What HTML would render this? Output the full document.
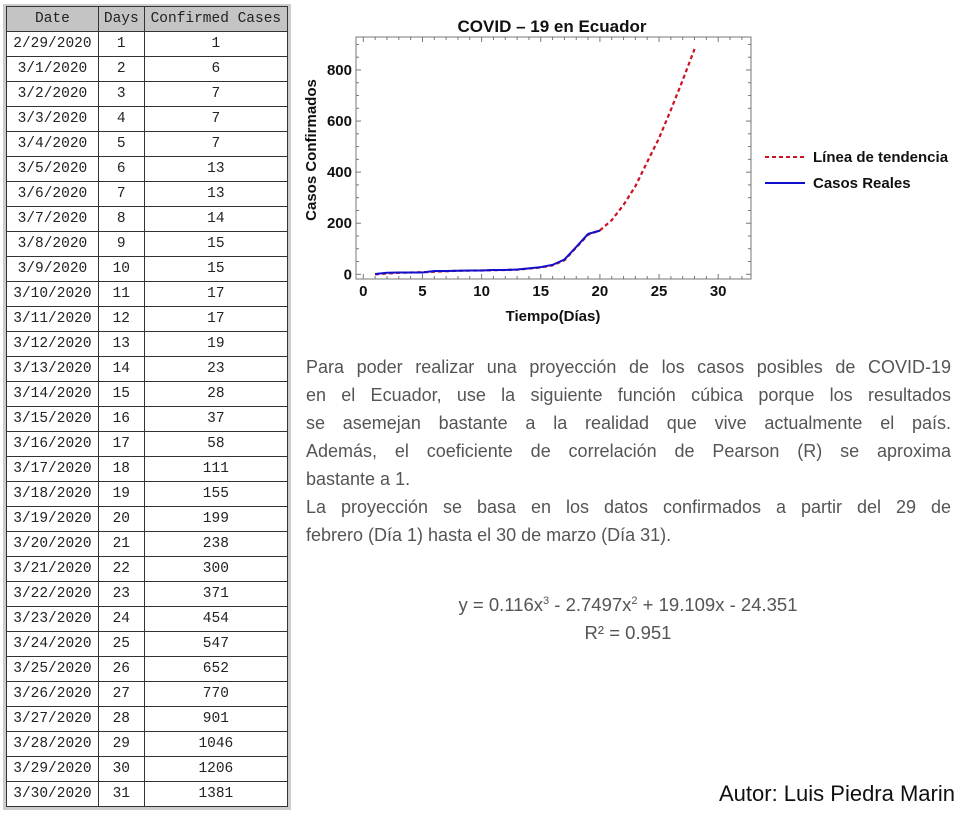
<!DOCTYPE html>
<html><head><meta charset="utf-8"><style>
body{margin:0;width:971px;height:819px;background:#fff;position:relative;overflow:hidden;font-family:"Liberation Sans",sans-serif}
#tbl{position:absolute;left:3px;top:4px;width:288px;background:#ccc;padding:2px 3px 3px 3px;box-sizing:border-box}
table{border-collapse:collapse;font-family:"Liberation Mono",monospace;font-size:14.5px;color:#222}
td,th{border:1px solid #333;height:24px;padding:0;text-align:center;font-weight:normal;background:#fff}
th{background:#c4c4c4}
.para{position:absolute;left:306px;width:645px;font-size:18px;color:#555;line-height:28px;top:353px}
.j{text-align:justify;text-align-last:justify}
.eq{position:absolute;left:448px;width:360px;text-align:center;font-size:18.5px;color:#555}
</style></head><body>
<div id="tbl">
<table>
<thead><tr><th style="width:91px">Date</th><th style="width:45px">Days</th><th style="width:143px">Confirmed Cases</th></tr></thead>
<tbody id="tb"></tbody></table></div>

<svg id="chart" width="971" height="330" style="position:absolute;left:0;top:0"></svg>

<div class="para">
<div class="j">Para poder realizar una proyección de los casos posibles de COVID-19</div>
<div class="j">en el Ecuador, use la siguiente función cúbica porque los resultados</div>
<div class="j">se asemejan bastante a la realidad que vive actualmente el país.</div>
<div class="j">Además, el coeficiente de correlación de Pearson (R) se aproxima</div>
<div>bastante a 1.</div>
<div class="j">La proyección se basa en los datos confirmados a partir del 29 de</div>
<div>febrero (Día 1) hasta el 30 de marzo (Día 31).</div>
</div>
<div class="eq" style="top:594px">y = 0.116x<sup style="font-size:11px">3</sup> - 2.7497x<sup style="font-size:11px">2</sup> + 19.109x - 24.351</div>
<div class="eq" style="top:622px">R² = 0.951</div>
<div style="position:absolute;right:16px;top:781px;font-size:22px;color:#111">Autor: Luis Piedra Marin</div>

<script>
const dates=["2/29/2020","3/1/2020","3/2/2020","3/3/2020","3/4/2020","3/5/2020","3/6/2020","3/7/2020","3/8/2020","3/9/2020","3/10/2020","3/11/2020","3/12/2020","3/13/2020","3/14/2020","3/15/2020","3/16/2020","3/17/2020","3/18/2020","3/19/2020","3/20/2020","3/21/2020","3/22/2020","3/23/2020","3/24/2020","3/25/2020","3/26/2020","3/27/2020","3/28/2020","3/29/2020","3/30/2020"];
const cases=[1,6,7,7,7,13,13,14,15,15,17,17,19,23,28,37,58,111,155,199,238,300,371,454,547,652,770,901,1046,1206,1381];
const realDays=[1,2,3,4,5,6,7,8,9,10,11,12,13,14,15,16,17,18,19,20];
const realVals=[1,6,7,7,7,13,13,14,15,15,17,17,19,23,28,37,58,107,158,171];
const trendDays=[1,3,5,8,10,13,15,16,17,18,19,20,21,22,23,24,25,26,27,28];
const trendVals=[0,6,8,14,15,18,27,35,55,105,155,172,212,272,345,440,533,644,760,882];
const xTicks=[0,5,10,15,20,25,30];
const yTicks=[0,200,400,600,800];

const tb=document.getElementById('tb');
dates.forEach((d,i)=>{const tr=document.createElement('tr');


tr.innerHTML='<td>'+d+'</td><td>'+(i+1)+'</td><td>'+cases[i]+'</td>';tb.appendChild(tr);});

const NS='http://www.w3.org/2000/svg',svg=document.getElementById('chart');
function el(t,a,p){const e=document.createElementNS(NS,t);for(const k in a)e.setAttribute(k,a[k]);(p||svg).appendChild(e);return e;}
const X0=356,X1=751,Y0=37,Y1=279;
const xs=v=>363.3+v*11.83, ys=v=>274.3-v*0.2554;
const frame=el('rect',{x:X0,y:Y0,width:X1-X0,height:Y1-Y0,fill:'none',stroke:'#777','stroke-width':1});


for(let v=0;v<=32;v++){const big=v%5==0,L=big?5:3;
 el('line',{x1:xs(v),x2:xs(v),y1:Y1,y2:Y1-L,stroke:'#777'});el('line',{x1:xs(v),x2:xs(v),y1:Y0,y2:Y0+L,stroke:'#777'});}
for(let v=0;v<=900;v+=50){const big=v%200==0,L=big?5:3;
 el('line',{x1:X0,x2:X0+L,y1:ys(v),y2:ys(v),stroke:'#777'});el('line',{x1:X1,x2:X1-L,y1:ys(v),y2:ys(v),stroke:'#777'});}
xTicks.forEach(v=>{const t=el('text',{x:xs(v),y:296,'text-anchor':'middle','font-size':15,'font-weight':'bold',fill:'#111'});t.textContent=v;

});
yTicks.forEach(v=>{const t=el('text',{x:352,y:ys(v)+5,'text-anchor':'end','font-size':15,'font-weight':'bold',fill:'#111'});t.textContent=v;

});
let t=el('text',{x:552,y:32,'text-anchor':'middle','font-size':17,'font-weight':'bold',fill:'#111'});t.textContent='COVID – 19 en Ecuador';


t=el('text',{x:553,y:321,'text-anchor':'middle','font-size':15,'font-weight':'bold',fill:'#111'});t.textContent='Tiempo(Días)';


t=el('text',{x:316,y:150,'text-anchor':'middle','font-size':15,'font-weight':'bold',fill:'#111',transform:'rotate(-90 316 150)'});t.textContent='Casos Confirmados';


const tp=el('polyline',{points:trendDays.map((d,i)=>xs(d)+','+ys(trendVals[i])).join(' '),fill:'none',stroke:'#cc1122','stroke-width':2.2,'stroke-dasharray':'4,3'});


const rp=el('polyline',{points:realDays.map((d,i)=>xs(d)+','+ys(realVals[i])).join(' '),fill:'none',stroke:'#1010cc','stroke-width':2});


const g1=el('g',{});


el('line',{x1:765,x2:805,y1:157,y2:157,stroke:'#cc1122','stroke-width':2,'stroke-dasharray':'4,3'},g1);
t=el('text',{x:813,y:162,'font-size':15,'font-weight':'bold',fill:'#111'},g1);t.textContent='Línea de tendencia';
const g2=el('g',{});


el('line',{x1:765,x2:805,y1:183,y2:183,stroke:'#1010cc','stroke-width':2},g2);
t=el('text',{x:813,y:188,'font-size':15,'font-weight':'bold',fill:'#111'},g2);t.textContent='Casos Reales';
</script>
</body></html>
